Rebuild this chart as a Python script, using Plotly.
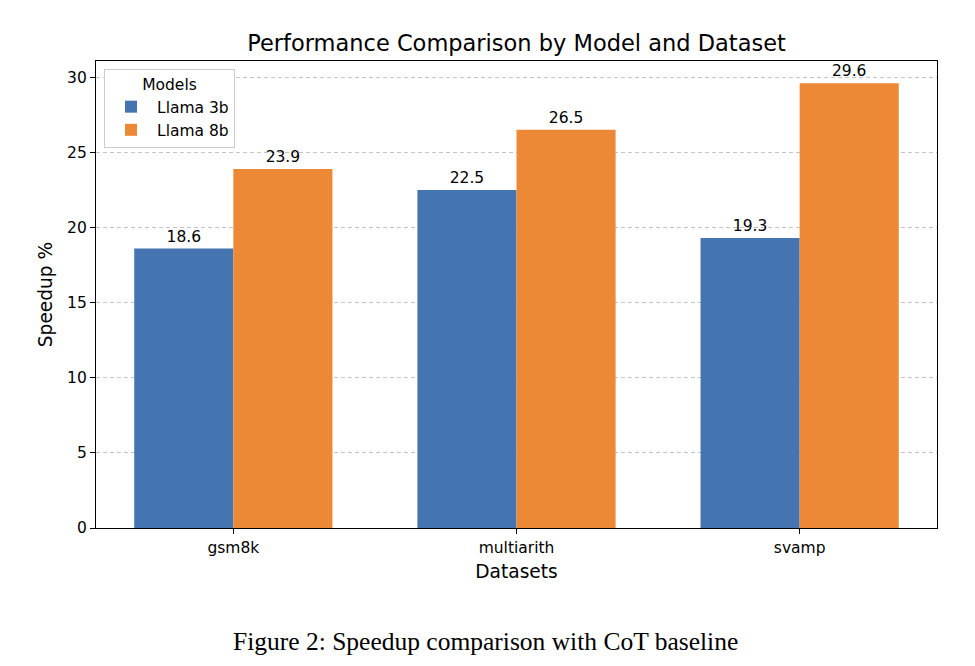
import plotly.graph_objects as go

datasets = ["gsm8k", "multiarith", "svamp"]
llama3b = [18.6, 22.5, 19.3]
llama8b = [23.9, 26.5, 29.6]
yticks = [0, 5, 10, 15, 20, 25, 30]

fig = go.Figure()
for name, vals, col in [("Llama 3b", llama3b, "#4575B0"), ("Llama 8b", llama8b, "#ED8936")]:
    fig.add_trace(go.Bar(
        x=datasets, y=vals, name=name, marker=dict(color=col, line=dict(width=0)),
        text=[f"{v:.1f}" for v in vals], textposition="outside",
        textfont=dict(family="DejaVu Sans", size=15.5, color="black"),
        cliponaxis=False,
    ))

fig.update_layout(
    width=975, height=666,
    paper_bgcolor="white", plot_bgcolor="white",
    barmode="group", bargap=0.3, bargroupgap=0,
    margin=dict(l=88, r=46, t=53, b=146),
    font=dict(family="DejaVu Sans", color="black"),
    title=dict(text="Performance Comparison by Model and Dataset", x=0.5, xanchor="center", xref="paper",
               y=0.947, yanchor="middle", font=dict(size=22.5, family="DejaVu Sans")),
    legend=dict(title=dict(text="Models", side="top center", font=dict(size=15.5)),
                x=0.0095, y=0.983, xanchor="left", yanchor="top",
                bgcolor="white", bordercolor="#cccccc", borderwidth=1,
                font=dict(size=15.5), itemwidth=42),
    xaxis=dict(range=[-0.485, 2.485], showline=True, linecolor="black", linewidth=1.2, mirror=True,
               ticks="outside", ticklen=5, tickcolor="black", tickfont=dict(size=15.5),
               title=dict(text="Datasets", font=dict(size=18.6), standoff=9)),
    yaxis=dict(range=[0, 31.08], tickvals=yticks, showline=True, linecolor="black", linewidth=1.2,
               mirror=True, ticks="outside", ticklen=5, tickcolor="black", tickfont=dict(size=15.5),
               showgrid=True, gridcolor="#c4c4c4", griddash="4px,3px", gridwidth=1, zeroline=False,
               title=dict(text="Speedup %", font=dict(size=18.6), standoff=9)),
    annotations=[dict(text="Figure 2: Speedup comparison with CoT baseline", xref="paper", yref="paper",
                      x=0.4637, y=-0.242, xanchor="center", yanchor="middle", showarrow=False,
                      font=dict(family="Liberation Serif", size=25.5, color="black"))],
)

fig.write_html("out.html")
